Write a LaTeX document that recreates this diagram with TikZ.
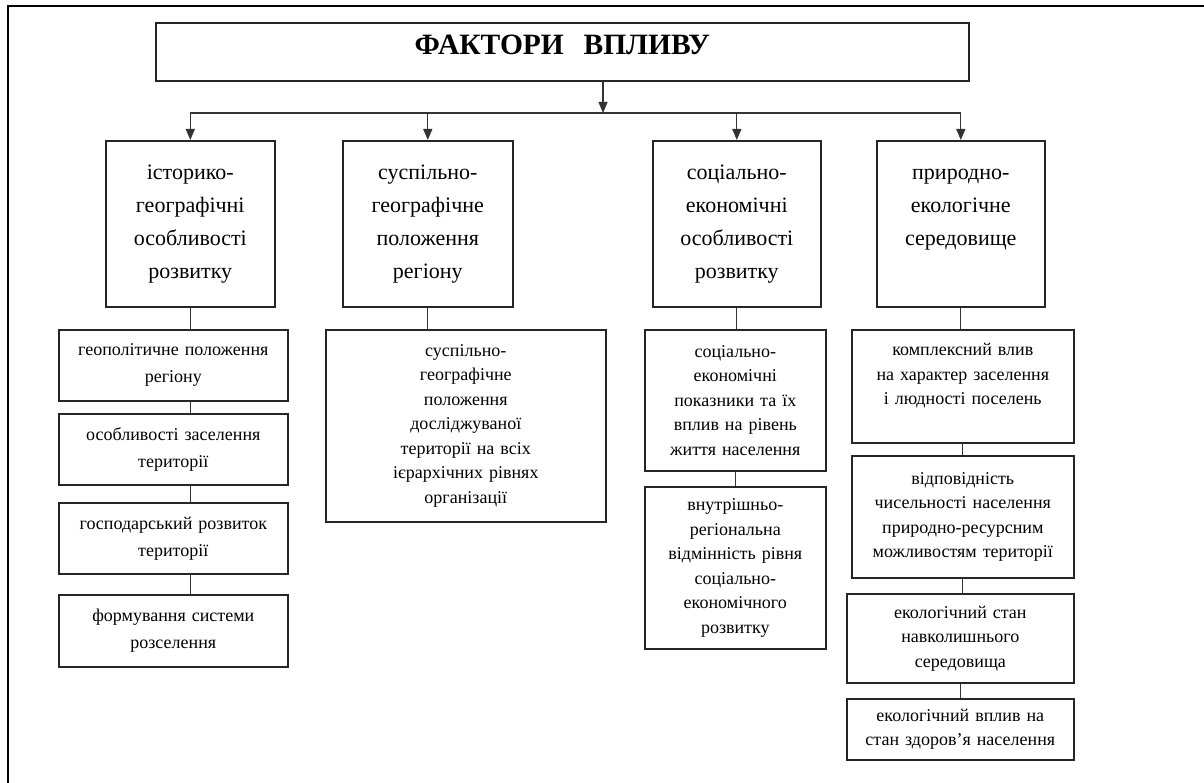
\documentclass[tikz,border=0pt]{standalone}
\usepackage{fontspec}
\setmainfont{Liberation Serif}
\usetikzlibrary{arrows.meta}

\tikzset{
	box/.style={draw=black!85, line width=1.6pt, inner xsep=0pt, inner ysep=0pt, align=center, anchor=north west},
	bigbox/.style={box, font=\fontsize{22}{33}\selectfont},
	smallbox/.style={box, font=\fontsize{18}{24.5}\selectfont},
	histbox/.style={box, font=\fontsize{18}{27}\selectfont},
	link/.style={draw=black!80, line width=1.3pt},
	arr/.style={link, -{Triangle[length=11pt,width=9pt]}},
}

\begin{document}
\begin{tikzpicture}[x=1pt, y=-1pt]
		\useasboundingbox (0,0) rectangle (1204,783);
		\draw[line width=1.3pt] (1204,6) -- (8,6) -- (8,783);
		\node[box, text width=813pt, text height=32pt, text depth=26pt, font=\fontsize{29.5}{31}\selectfont\bfseries] (title) at (155,22) {ФАКТОРИ\ \ ВПЛИВУ};
		\node[bigbox, text width=169pt, minimum height=166pt] (hist) at (105,140) {історико-\\географічні\\особливості\\розвитку};
		\node[bigbox, text width=170pt, minimum height=166pt] (susp) at (342,140) {суспільно-\\географічне\\положення\\регіону};
		\node[bigbox, text width=168pt, minimum height=166pt] (soc) at (652,140) {соціально-\\економічні\\особливості\\розвитку};
		\node[bigbox, text width=168pt, minimum height=166pt] (pryr) at (876,140) {природно-\\екологічне\\середовище\\~};
		\node[histbox, text width=229pt, minimum height=71pt] (hist1) at (58,329) {геополітичне положення\\регіону};
		\node[histbox, text width=229pt, minimum height=71pt] (hist2) at (58,413) {особливості заселення\\території};
		\node[histbox, text width=229pt, minimum height=71pt] (hist3) at (58,502) {господарський розвиток\\території};
		\node[histbox, text width=229pt, minimum height=72pt] (hist4) at (58,594) {формування системи\\розселення};
		\node[smallbox, text width=280pt, minimum height=192pt] (susp1) at (325,329) {суспільно-\\географічне\\положення\\досліджуваної\\території на всіх\\ієрархічних рівнях\\організації};
		\node[smallbox, text width=181pt, minimum height=141pt] (soc1) at (644,329) {соціально-\\економічні\\показники та їх\\вплив на рівень\\життя населення};
		\node[smallbox, text width=181pt, minimum height=162pt] (soc2) at (644,486) {внутрішньо-\\регіональна\\відмінність рівня\\соціально-\\економічного\\розвитку};
		\node[smallbox, text width=222pt, minimum height=113pt] (pryr1) at (851,329) {комплексний влив\\на характер заселення\\і людності поселень\\~};
		\node[smallbox, text width=222pt, minimum height=122pt] (pryr2) at (851,455) {відповідність\\чисельності населення\\природно-ресурсним\\можливостям території};
		\node[smallbox, text width=227pt, minimum height=89pt] (pryr3) at (846,593) {екологічний стан\\навколишнього\\середовища};
		\node[smallbox, text width=227pt, minimum height=61pt] (pryr4) at (846,698) {екологічний вплив на\\стан здоров’я населення};
		\coordinate (fork) at (603,113);
		\draw[arr] (title.south -| fork) -- (fork);
		\draw[link] (fork -| hist.north) -- (fork -| pryr.north);
		\foreach \n in {hist,susp,soc,pryr}
			\draw[arr] (fork -| \n.north) -- (\n.north);
		\draw[link] (hist.south) -- (hist.south |- hist1.north);
		\draw[link] (hist.south |- hist1.south) -- (hist.south |- hist2.north);
		\draw[link] (hist.south |- hist2.south) -- (hist.south |- hist3.north);
		\draw[link] (hist.south |- hist3.south) -- (hist.south |- hist4.north);
		\draw[link] (susp.south) -- (susp.south |- susp1.north);
		\draw[link] (soc.south) -- (soc.south |- soc1.north);
		\draw[link] (soc1.south) -- (soc1.south |- soc2.north);
		\draw[link] (pryr.south) -- (pryr.south |- pryr1.north);
		\draw[link] (pryr1.south) -- (pryr1.south |- pryr2.north);
		\draw[link] (pryr2.south) -- (pryr2.south |- pryr3.north);
		\draw[link] (pryr3.south) -- (pryr3.south |- pryr4.north);
	\end{tikzpicture}
\end{document}
